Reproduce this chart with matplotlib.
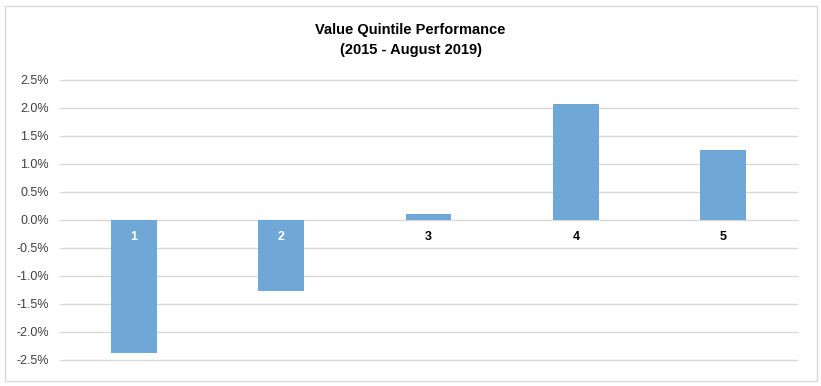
import matplotlib
matplotlib.use("Agg")
import matplotlib.pyplot as plt
from matplotlib.patches import Rectangle
from matplotlib.ticker import FuncFormatter

plt.rcParams["font.family"] = ["Liberation Sans", "DejaVu Sans"]

quintiles = ["1", "2", "3", "4", "5"]
performance = [-2.38, -1.26, 0.10, 2.07, 1.25]   # percent
label_colors = ["white", "white", "black", "black", "black"]

fig = plt.figure(figsize=(8.21, 3.86), dpi=100)
fig.patches.append(Rectangle((5/821, 5/386), 812/821, 375/386, transform=fig.transFigure,
                             fill=False, edgecolor="#d9d9d9", linewidth=1))
ax = fig.add_axes([60/821, 1-360/386, 737/821, 280/386])

x = range(len(quintiles))
ax.bar(x, performance, width=0.31, color="#6fa8d6", zorder=3)
ax.set_xlim(-0.5, len(quintiles) - 0.5)
ax.set_ylim(-2.5, 2.5)
ax.set_yticks([-2.5, -2.0, -1.5, -1.0, -0.5, 0, 0.5, 1.0, 1.5, 2.0, 2.5])
ax.yaxis.set_major_formatter(FuncFormatter(lambda v, p: "%.1f%%" % v))
ax.grid(axis="y", color="#d9d9d9", linewidth=1, zorder=0)
for gl in ax.get_ygridlines():
    gl.set_clip_on(False)
ax.set_xticks([])
for s in ax.spines.values():
    s.set_visible(False)
ax.tick_params(axis="y", length=0, labelsize=9, labelcolor="#404040", pad=8)

for i, q in enumerate(quintiles):
    ax.text(i, -0.3, q, ha="center", va="center", fontsize=9, fontweight="bold",
            color=label_colors[i], zorder=4)

fig.text(0.5, 1-40/386, "Value Quintile Performance\n(2015 - August 2019)", ha="center",
         va="center", fontsize=10.5, fontweight="bold", linespacing=1.55)

fig.savefig("out.png", dpi=100)
